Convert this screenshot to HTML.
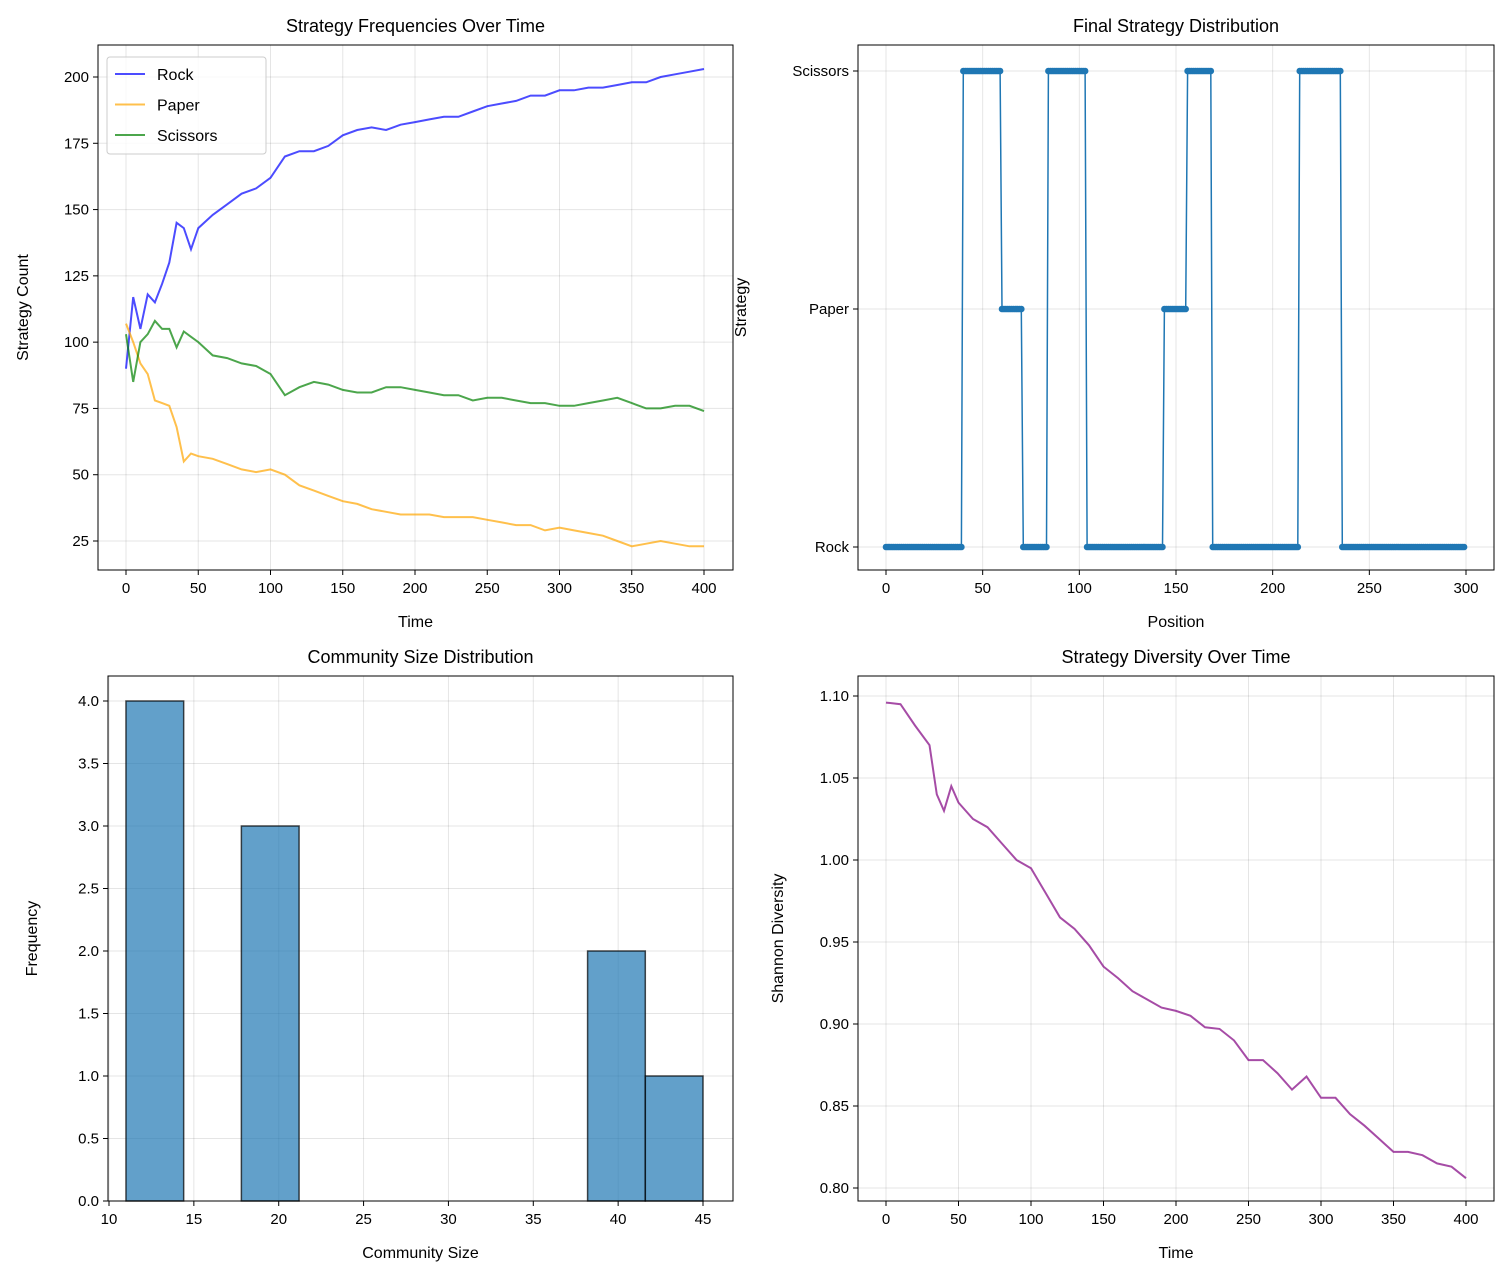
<!DOCTYPE html>
<html><head><meta charset="utf-8"><style>
body{margin:0;background:#fff}
svg{font-family:"Liberation Sans","DejaVu Sans",sans-serif}
</style></head><body>
<svg id="s" width="1507" height="1279" xmlns="http://www.w3.org/2000/svg"></svg>
<script>
const timeA=[0,5,10,15,20,25,30,35,40,45,50,60,70,80,90,100,110,120,130,140,150,160,170,180,190,200,210,220,230,240,250,260,270,280,290,300,310,320,330,340,350,360,370,380,390,400];
const rockVals=[90,117,105,118,115,122,130,145,143,135,143,148,152,156,158,162,170,172,172,174,178,180,181,180,182,183,184,185,185,187,189,190,191,193,193,195,195,196,196,197,198,198,200,201,202,203];
const paperVals=[107,100,92,88,78,77,76,68,55,58,57,56,54,52,51,52,50,46,44,42,40,39,37,36,35,35,35,34,34,34,33,32,31,31,29,30,29,28,27,25,23,24,25,24,23,23];
const scissorsVals=[103,85,100,103,108,105,105,98,104,102,100,95,94,92,91,88,80,83,85,84,82,81,81,83,83,82,81,80,80,78,79,79,78,77,77,76,76,77,78,79,77,75,75,76,76,74];
const divTime=[0,10,20,30,35,40,45,50,60,70,80,90,100,110,120,130,140,150,160,170,180,190,200,210,220,230,240,250,260,270,280,290,300,310,320,330,340,350,360,370,380,390,400];
const divVals=[1.096,1.095,1.082,1.07,1.04,1.03,1.045,1.035,1.025,1.02,1.01,1.0,0.995,0.98,0.965,0.958,0.948,0.935,0.928,0.92,0.915,0.91,0.908,0.905,0.898,0.897,0.89,0.878,0.878,0.87,0.86,0.868,0.855,0.855,0.845,0.838,0.83,0.822,0.822,0.82,0.815,0.813,0.806];
const runStrategy=[0,2,1,0,2,0,1,2,0,2,0];
const runLength=[40,20,11,13,20,40,12,13,45,22,64];
const histCounts=[4,0,3,0,0,0,0,0,2,1];
const histMin=11, histMax=45;

const S=document.getElementById('s');const NS='http://www.w3.org/2000/svg';
function el(t,a,p){const e=document.createElementNS(NS,t);for(const k in a)e.setAttribute(k,a[k]);(p||S).appendChild(e);return e;}
function txt(x,y,s,a){const e=el('text',Object.assign({x:x,y:y,'font-size':15,fill:'#000'},a));e.textContent=s;return e;}
function axes(name,L,T,R,B,xs,xt,ys,yt,title,xl,yl,ylx){
  const g=el('g',{});
  xt.forEach(v=>{const x=xs(v);el('line',{x1:x,x2:x,y1:T,y2:B,stroke:'#000','stroke-opacity':0.1},g);el('line',{x1:x,x2:x,y1:B,y2:B+5,stroke:'#000'},g);
    const t=txt(x,B+23,String(v),{'text-anchor':'middle'});});
  yt.forEach(([v,l])=>{const y=ys(v);el('line',{x1:L,x2:R,y1:y,y2:y,stroke:'#000','stroke-opacity':0.1},g);el('line',{x1:L-5,x2:L,y1:y,y2:y,stroke:'#000'},g);
    const t=txt(L-9,y+5,l,{'text-anchor':'end'});});
  const t1=txt((L+R)/2,T-13,title,{'text-anchor':'middle','font-size':18});
  const t2=txt((L+R)/2,B+57,xl,{'text-anchor':'middle','font-size':16});
  const t3=txt(0,0,yl,{'text-anchor':'middle','font-size':16,transform:`translate(${ylx},${(T+B)/2}) rotate(-90)`});
  return g;
}
function frame(L,T,R,B){const r=el('rect',{x:L,y:T,width:R-L,height:B-T,fill:'none',stroke:'#000','stroke-width':1});}
function line(xsA,ysA,xs,ys,color,name,op){const d=xsA.map((v,i)=>(i?'L':'M')+xs(v).toFixed(1)+','+ys(ysA[i]).toFixed(1)).join('');
  const p=el('path',{d:d,fill:'none',stroke:color,'stroke-width':2,'stroke-opacity':op});return p;}

// Panel 1
{const L=98,T=45,R=733,B=570;const xs=v=>126+v*578/400, ys=v=>541-(v-25)*(464/175);
 axes('strategy-frequencies-panel',L,T,R,B,xs,[0,50,100,150,200,250,300,350,400],ys,[25,50,75,100,125,150,175,200].map(v=>[v,String(v)]),'Strategy Frequencies Over Time','Time','Strategy Count',28);
 line(timeA,rockVals,xs,ys,'#0000ff','rock-line',0.7);line(timeA,paperVals,xs,ys,'#ffa500','paper-line',0.7);line(timeA,scissorsVals,xs,ys,'#008000','scissors-line',0.7);
 frame(L,T,R,B);
 const lg=el('g',{});
 el('rect',{x:107,y:57,width:159,height:97,rx:3,fill:'#fff','fill-opacity':0.8,stroke:'#ccc'},lg);
 [['Rock','#0000ff'],['Paper','#ffa500'],['Scissors','#008000']].forEach(([n,c],i)=>{const y=74+i*30.5;
  const l=el('line',{x1:115,x2:145,y1:y,y2:y,stroke:c,'stroke-width':2,'stroke-opacity':0.7},lg);
  const t=txt(157,y+6,n,{'font-size':16});});}

// Panel 2
{const L=858,T=45,R=1494,B=570;const xs=v=>886+v*580/300, ys=v=>547-v*238;
 axes('final-distribution-panel',L,T,R,B,xs,[0,50,100,150,200,250,300],ys,[[0,'Rock'],[1,'Paper'],[2,'Scissors']],'Final Strategy Distribution','Position','Strategy',746);
 const vals=[];runStrategy.forEach((s,i)=>{for(let k=0;k<runLength[i];k++)vals.push(s);});
 const pos=vals.map((v,i)=>i);
 const p=line(pos,vals,xs,ys,'#1f77b4','strategy-line',1);p.setAttribute('stroke-width',1.5);
 vals.forEach((v,i)=>{const c=el('circle',{cx:xs(i),cy:ys(v),r:3.3,fill:'#1f77b4'});});
 frame(L,T,R,B);}

// Panel 3
{const L=108,T=676,R=733,B=1201;const xs=v=>109+(v-10)*594/35, ys=v=>1201-v*125;
 axes('community-size-panel',L,T,R,B,xs,[10,15,20,25,30,35,40,45],ys,[0,0.5,1,1.5,2,2.5,3,3.5,4].map(v=>[v,v.toFixed(1)]),'Community Size Distribution','Community Size','Frequency',37);
 const w=(histMax-histMin)/histCounts.length;
 histCounts.forEach((c,i)=>{if(!c)return;const x0=xs(histMin+i*w),x1=xs(histMin+(i+1)*w);
  const r=el('rect',{x:x0,y:ys(c),width:x1-x0,height:ys(0)-ys(c),fill:'#1f77b4','fill-opacity':0.7,stroke:'#000','stroke-opacity':0.7,'stroke-width':1.5});});
 frame(L,T,R,B);}

// Panel 4
{const L=858,T=676,R=1494,B=1201;const xs=v=>886+v*580/400, ys=v=>1188-(v-0.8)*(492/0.3);
 axes('diversity-panel',L,T,R,B,xs,[0,50,100,150,200,250,300,350,400],ys,[0.8,0.85,0.9,0.95,1,1.05,1.1].map(v=>[v,v.toFixed(2)]),'Strategy Diversity Over Time','Time','Shannon Diversity',783);
 line(divTime,divVals,xs,ys,'#800080','diversity-line',0.7);
 frame(L,T,R,B);}
</script>
</body></html>
